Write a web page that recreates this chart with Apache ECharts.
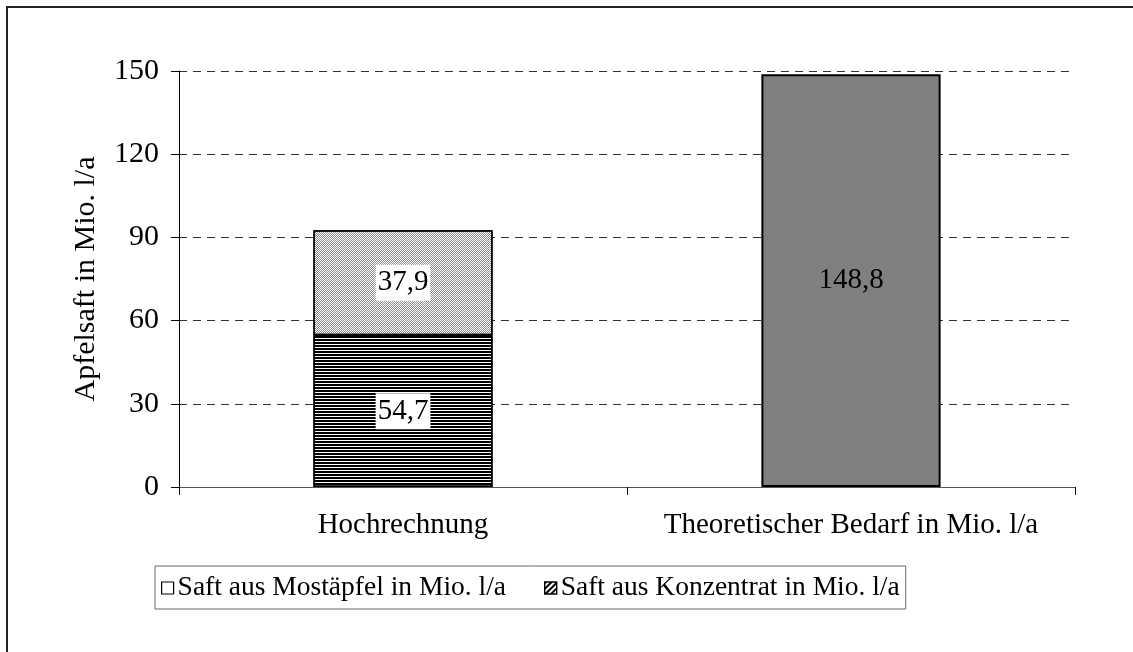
<!DOCTYPE html>
<html>
<head>
<meta charset="utf-8">
<script src="https://cdn.jsdelivr.net/npm/echarts@6/dist/echarts.min.js"></script>
<style>
  html, body { margin: 0; padding: 0; background: #fff; }
  #chart { width: 1133px; height: 652px; }
</style>
</head>
<body>
<div id="chart"></div>
<script>
const categories = ["Hochrechnung", "Theoretischer Bedarf in Mio. l/a"];
const konzentrat = [54.7, null];
const mostaepfel = [37.9, null];
const bedarf = [null, 148.8];
const yTicks = [0, 30, 60, 90, 120, 150];

const font = "Liberation Serif";
const fmt = (p) => String(p.value).replace(".", ",");

const myChart = echarts.init(document.getElementById("chart"));

const option = {
  backgroundColor: "#fff",
  animation: false,
  textStyle: { fontFamily: font, color: "#000" },
  graphic: [
    { type: "line", shape: { x1: 6, y1: 7, x2: 1133, y2: 7 }, style: { stroke: "#222", lineWidth: 2 } },
    { type: "line", shape: { x1: 7, y1: 6, x2: 7, y2: 652 }, style: { stroke: "#222", lineWidth: 2 } },
  ],
  grid: { left: 179, right: 58, top: 71, bottom: 165 },
  legend: {
    left: 155,
    top: 566,
    padding: [8, 6, 7, 6],
    itemGap: 38,
    itemWidth: 12,
    itemHeight: 12,
    borderColor: "#666",
    borderWidth: 1,
    backgroundColor: "#fff",
    textStyle: { fontFamily: font, fontSize: 27.5, color: "#000", padding: [0, 0, 0, -1] },
    data: [
      { name: "Saft aus Mostäpfel in Mio. l/a", icon: "rect", itemStyle: { color: "#fff", borderColor: "#000", borderWidth: 1.2, decal: "none" } },
      {
        name: "Saft aus Konzentrat in Mio. l/a",
        icon: "rect",
        itemStyle: {
          color: "#fff",
          borderColor: "#000",
          borderWidth: 1.2,
          decal: { symbol: "rect", color: "#000", dashArrayX: [1, 0], dashArrayY: [2, 2], rotation: -Math.PI / 4 },
        },
      },
    ],
  },
  xAxis: {
    type: "category",
    data: categories,
    axisLine: { lineStyle: { color: "#555", width: 1 } },
    axisTick: { show: true, length: 8, lineStyle: { color: "#000" } },
    axisLabel: { interval: 0, hideOverlap: false, fontFamily: font, fontSize: 29, color: "#000", margin: 24 },
  },
  yAxis: {
    type: "value",
    min: yTicks[0],
    max: yTicks[yTicks.length - 1],
    interval: 30,
    name: "Apfelsaft in Mio. l/a",
    nameLocation: "middle",
    nameGap: 78,
    nameTextStyle: { fontFamily: font, fontSize: 30, color: "#000" },
    axisLine: { show: true, lineStyle: { color: "#000", width: 1 } },
    axisTick: { show: true, length: 8, lineStyle: { color: "#000" } },
    axisLabel: { fontFamily: font, fontSize: 30, color: "#000", margin: 20 },
    splitLine: { show: true, lineStyle: { color: "#333", type: [8, 6], width: 1 } },
  },
  series: [
    {
      name: "Saft aus Konzentrat in Mio. l/a",
      type: "bar",
      stack: "a",
      barWidth: "40%",
      data: konzentrat,
      itemStyle: {
        color: "#fff",
        borderColor: "#000",
        borderWidth: 1.5,
        decal: { symbol: "rect", color: "#000", dashArrayX: [1, 0], dashArrayY: [2, 1], symbolSize: 1 },
      },
      label: {
        show: true,
        position: "inside",
        formatter: fmt,
        fontFamily: font,
        fontSize: 29,
        color: "#000",
        backgroundColor: "#fff",
        padding: [5, 2, 2, 2],
      },
    },
    {
      name: "Saft aus Mostäpfel in Mio. l/a",
      type: "bar",
      stack: "a",
      data: mostaepfel,
      itemStyle: {
        color: "#fff",
        borderColor: "#000",
        borderWidth: 1.5,
        decal: { symbol: "rect", color: "#8a8a8a", dashArrayX: [[1, 1], [0, 1, 1, 0]], dashArrayY: [1, 0], symbolSize: 1 },
      },
      label: {
        show: true,
        position: "inside",
        formatter: fmt,
        fontFamily: font,
        fontSize: 29,
        color: "#000",
        backgroundColor: "#fff",
        padding: [5, 2, 2, 2],
      },
    },
    {
      name: "Theoretischer Bedarf",
      type: "bar",
      stack: "a",
      data: bedarf,
      itemStyle: { color: "#808080", borderColor: "#000", borderWidth: 2 },
      label: {
        show: true,
        position: "inside",
        formatter: fmt,
        fontFamily: font,
        fontSize: 29,
        color: "#000",
      },
    },
  ],
};

option && myChart.setOption(option);
</script>
</body>
</html>
